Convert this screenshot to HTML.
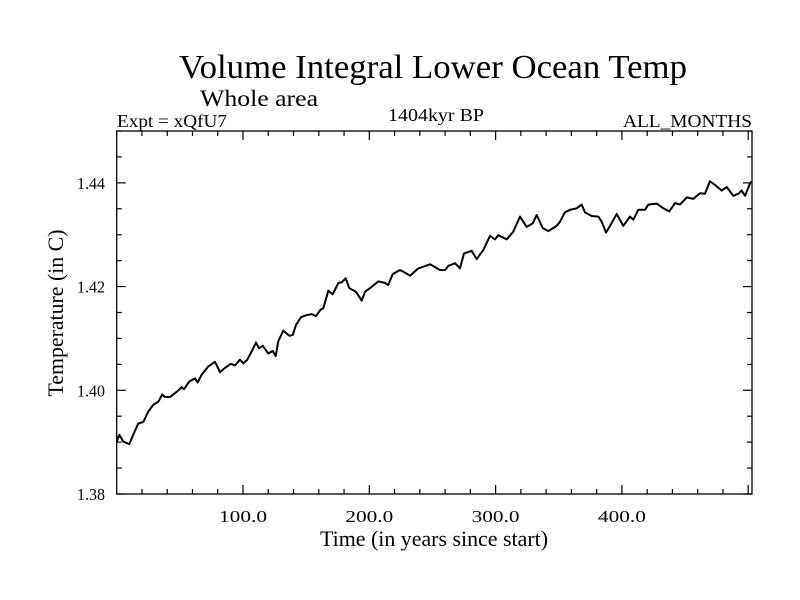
<!DOCTYPE html>
<html><head><meta charset="utf-8"><style>
body{margin:0;background:#fff;}
svg{display:block;font-family:"Liberation Serif",serif;}
</style></head><body>
<svg id="chart" width="800" height="600">
<text x="433" y="78" font-size="34" text-anchor="middle" textLength="508" lengthAdjust="spacingAndGlyphs">Volume Integral Lower Ocean Temp</text>
<text x="259" y="106" font-size="23" text-anchor="middle" textLength="118" lengthAdjust="spacingAndGlyphs">Whole area</text>
<text x="117" y="127" font-size="18" textLength="110" lengthAdjust="spacingAndGlyphs">Expt = xQfU7</text>
<text x="436" y="121" font-size="18" text-anchor="middle" textLength="96" lengthAdjust="spacingAndGlyphs">1404kyr BP</text>
<text x="752" y="127" font-size="18" text-anchor="end" textLength="129" lengthAdjust="spacingAndGlyphs">ALL_MONTHS</text>
<text x="434" y="546" font-size="22" text-anchor="middle" textLength="228" lengthAdjust="spacingAndGlyphs">Time (in years since start)</text>
<text transform="translate(63,313) rotate(-90)" font-size="22" text-anchor="middle" textLength="167" lengthAdjust="spacingAndGlyphs">Temperature (in C)</text>
<g id="axes"></g>
<path id="line" fill="none" stroke="#000" stroke-width="2" stroke-linejoin="round"></path>
<rect x="116.7" y="131" width="635.3" height="363" fill="none" stroke="#000" stroke-width="1.3"></rect>
</svg>
<script>
const years=[0,2.1,5.2,10,12.7,17.1,21.1,25,29,32.9,36.1,38.2,42.2,47.5,51.5,53.3,57.5,62,64.1,67.3,72.5,77.8,81.8,85.7,90.3,93.7,97.6,100.2,103.4,106.9,110.3,112.7,115.6,120,123.5,125.9,127.9,131.9,136.7,139.4,142,145.9,150.4,154.4,157.8,161.5,163.6,167.5,171,175.5,178.1,181.3,184.2,189.5,194,196.6,200.6,207.1,212.4,215,218.5,224.3,228.3,232.2,238.8,248.1,256,259.9,262.6,267.9,271.8,275,281.1,285,290.3,295.6,299.5,302.1,308.8,314,319.3,324.6,329.4,332.5,337.3,341.7,348.4,351,354.9,358.9,364.2,368.2,370.8,376.1,381.3,384,387.4,390.6,395.9,401.1,406.4,409,413,418.3,420.9,427.6,432.8,437.5,442,446,451.3,456.5,461.8,465.8,469.7,473.7,479,483,488.2,492.2,494.8,497.5,501.4,502.8];
const temps=[1.3901,1.3914,1.3901,1.3896,1.3912,1.3936,1.3939,1.3959,1.3972,1.3978,1.3992,1.3987,1.3987,1.3997,1.4006,1.4002,1.4017,1.4023,1.4015,1.4030,1.4046,1.4055,1.4035,1.4043,1.4051,1.4048,1.4059,1.4052,1.4059,1.4075,1.4092,1.4081,1.4086,1.4071,1.4076,1.4066,1.4094,1.4115,1.4105,1.4107,1.4126,1.4141,1.4145,1.4147,1.4143,1.4156,1.4158,1.4192,1.4185,1.4207,1.4208,1.4216,1.4197,1.4190,1.4173,1.4190,1.4197,1.4210,1.4207,1.4203,1.4224,1.4232,1.4227,1.4221,1.4235,1.4243,1.4232,1.4232,1.4240,1.4245,1.4235,1.4264,1.4269,1.4253,1.4271,1.4298,1.4291,1.4299,1.4291,1.4306,1.4335,1.4315,1.4322,1.4338,1.4313,1.4307,1.4317,1.4325,1.4343,1.4348,1.4351,1.4358,1.4343,1.4336,1.4335,1.4325,1.4304,1.4317,1.4340,1.4317,1.4335,1.4329,1.4348,1.4348,1.4358,1.4360,1.4351,1.4345,1.4361,1.4358,1.4372,1.4369,1.4380,1.4379,1.4403,1.4396,1.4385,1.4392,1.4375,1.4379,1.4385,1.4375,1.4399,1.4403];
const xTickLabels=["100.0","200.0","300.0","400.0"];
const xTickValues=[100,200,300,400];
const yTickLabels=["1.38","1.40","1.42","1.44"];
const yTickValues=[1.38,1.40,1.42,1.44];
const X0=116.7,X1=752,Y0=494,Y1=131,xmin=0,xmax=503,ymin=1.38,ymax=1.45;
const xs=v=>X0+(v-xmin)/(xmax-xmin)*(X1-X0);
const ys=v=>Y0-(v-ymin)/(ymax-ymin)*(Y0-Y1);
const NS="http://www.w3.org/2000/svg";
const axes=document.getElementById('axes');
function ln(x1,y1,x2,y2,name){const l=document.createElementNS(NS,'line');
l.setAttribute('x1',x1);l.setAttribute('y1',y1);l.setAttribute('x2',x2);l.setAttribute('y2',y2);
l.setAttribute('stroke','#000');l.setAttribute('stroke-width','1.2');


axes.appendChild(l);}
function tx(x,y,s,anchor,len,name){const t=document.createElementNS(NS,'text');
t.setAttribute('x',x);t.setAttribute('y',y);t.setAttribute('font-size','17');t.setAttribute('text-anchor',anchor);
t.setAttribute('textLength',len);t.setAttribute('lengthAdjust','spacingAndGlyphs');t.textContent=s;


axes.appendChild(t);}
for(let v=20;v<xmax;v+=20){const x=xs(v);const major=v%100===0;const L=major?9:5;
ln(x,Y0,x,Y0-L,'x-tick');ln(x,Y1,x,Y1+L,'x-tick-top');}
for(let i=0;i<=14;i++){const v=ymin+i*0.005;const y=ys(v);const major=i%4===0;const L=major?9:5;
ln(X0,y,X0+L,y,'y-tick');ln(X1,y,X1-L,y,'y-tick-right');}
xTickValues.forEach((v,i)=>tx(xs(v),522,xTickLabels[i],'middle',48,'x-tick-label'));
yTickValues.forEach((v,i)=>tx(105,ys(v)+6,yTickLabels[i],'end',28,'y-tick-label'));
document.getElementById('line').setAttribute('d',years.map((v,i)=>(i?'L':'M')+xs(v).toFixed(1)+','+ys(temps[i]).toFixed(1)).join(''));
</script>
</body></html>
